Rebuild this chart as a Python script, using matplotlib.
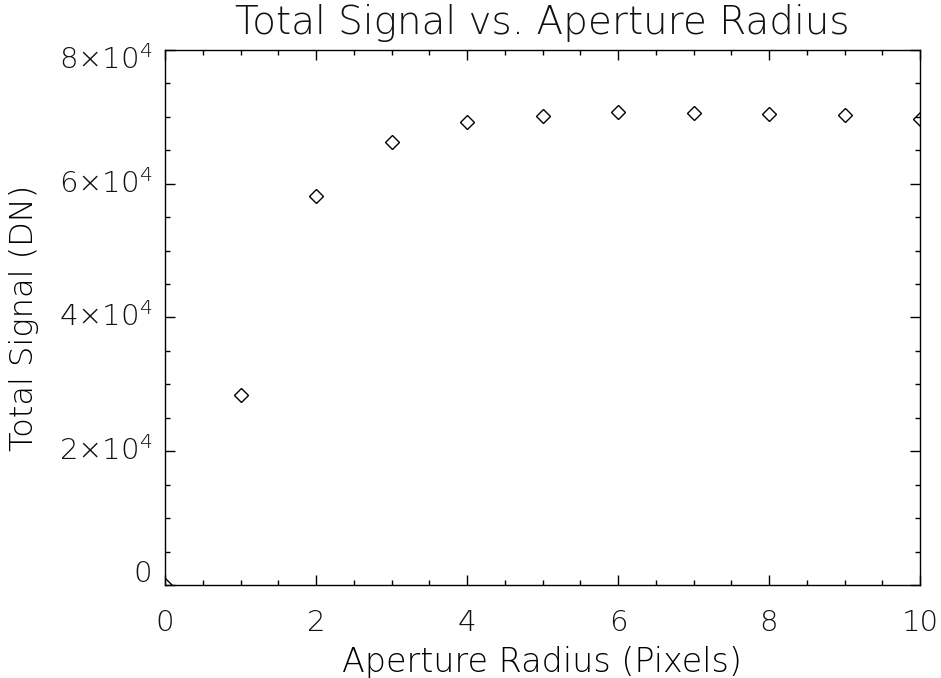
import matplotlib
matplotlib.use("Agg")
import matplotlib.pyplot as plt
from matplotlib.ticker import MultipleLocator
import matplotlib.transforms as mtransforms

# ---- data ----
radius = [0, 1, 2, 3, 4, 5, 6, 7, 8, 9, 10]
total_signal = [0, 28400, 58100, 66200, 69300, 70130, 70770, 70620, 70390, 70280, 69750]

x_ticks = [0, 2, 4, 6, 8, 10]
x_tick_labels = ["0", "2", "4", "6", "8", "10"]
y_ticks = [0, 20000, 40000, 60000, 80000]
y_tick_labels = ["0", r"$\mathregular{2{\times}10^{4}}$", r"$\mathregular{4{\times}10^{4}}$",
                 r"$\mathregular{6{\times}10^{4}}$", r"$\mathregular{8{\times}10^{4}}$"]

title = "Total Signal vs. Aperture Radius"
xlabel = "Aperture Radius (Pixels)"
ylabel = "Total Signal (DN)"

plt.rcParams["font.family"] = ["DejaVu Sans"]
plt.rcParams["font.weight"] = 200
plt.rcParams["text.color"] = "#111111"

fig = plt.figure(figsize=(9.41, 6.78), dpi=100)
ax = fig.add_axes([165/941, 1-585/678, (920-165)/941, (585-50)/678])

ax.plot(radius, total_signal, linestyle="none", marker="D", markersize=6.9,
        markerfacecolor="none", markeredgecolor="black", markeredgewidth=1.0)

ax.set_xlim(0, 10)
ax.set_ylim(0, 80000)

ax.xaxis.set_minor_locator(MultipleLocator(0.5))
ax.yaxis.set_minor_locator(MultipleLocator(5000))
ax.set_xticks(x_ticks)
ax.set_xticklabels(x_tick_labels)
ax.set_yticks(y_ticks)
ax.set_yticklabels([])

ax.tick_params(which="both", direction="in", top=True, right=True, width=1.0, color="black")
ax.tick_params(which="major", length=7.2)
ax.tick_params(which="minor", length=3.6)
ax.tick_params(axis="x", which="major", pad=17, labelsize=21, labelcolor="#111111")
for lab in ax.get_xticklabels():
    lab.set_fontweight(200)

# y tick labels as text at each tick value (IDL-style nudges at ends)
trans = mtransforms.blended_transform_factory(ax.transAxes, ax.transData)
for val, lab in zip(y_ticks, y_tick_labels):
    dy = 0
    if val == y_ticks[-1]:
        dy = -7
    elif val == y_ticks[0]:
        dy = 8
    ax.text(0, val, lab,
            transform=trans + mtransforms.ScaledTranslation(-9/72, dy/72, fig.dpi_scale_trans),
            ha="right", va="center", fontsize=21, fontweight=200, clip_on=False)

for s in ax.spines.values():
    s.set_linewidth(1.0)
    s.set_color("black")

ax.set_title(title, fontsize=28, fontweight=200, pad=11.5)
ax.set_xlabel(xlabel, fontsize=24, fontweight=200, labelpad=7)
ax.set_ylabel(ylabel, fontsize=23, fontweight=200, labelpad=87)

fig.savefig("out.png", dpi=100)
